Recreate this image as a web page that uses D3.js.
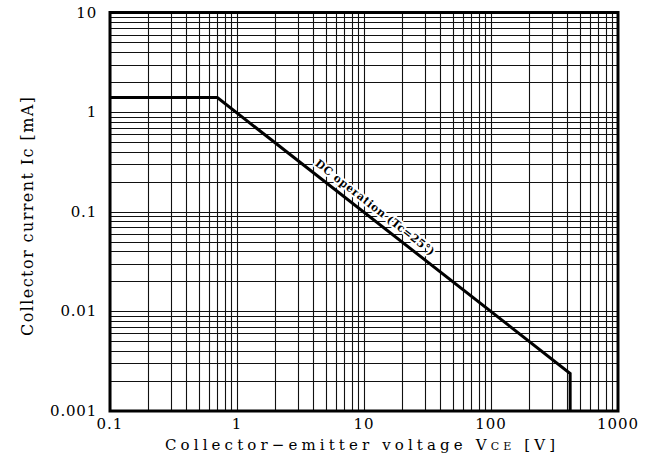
<!DOCTYPE html>
<html><head><meta charset="utf-8">
<script src="https://cdn.jsdelivr.net/npm/d3@7"></script>
<style>body{margin:0;background:#fff}svg{display:block}</style>
</head><body>
<svg id="c" width="657" height="464"></svg>
<script>
// ---- data ----
const xTicks = [0.1, 1, 10, 100, 1000];
const xTickLabels = ["0.1", "1", "10", "100", "1000"];
const yTicks = [0.001, 0.01, 0.1, 1, 10];
const yTickLabels = ["0.001", "0.01", "0.1", "1", "10"];
const gridMultiples = [1, 2, 3, 4, 5, 6, 7, 8, 9];
const soaVoltage = [0.1, 0.7, 420, 420];
const soaCurrent = [1.4, 1.4, 0.00238, 0.001];
const curveLabel = "DC operation (Tc=25°)";
const xTitle = "Collector−emitter voltage V";
const xTitleSub = "CE";
const xTitleEnd = " [V]";
const yTitle = "Collector current Ic [mA]";

// ---- layout ----
const L = 110, R = 618, T = 12.5, B = 411;
const svg = d3.select("#c");
const x = d3.scaleLog().domain([0.1, 1000]).range([L, R]);
const y = d3.scaleLog().domain([0.001, 10]).range([B, T]);
const font = "'DejaVu Serif', serif";

const xGrid = [], yGrid = [];
for (const d of xTicks.slice(0, -1)) for (const m of gridMultiples) xGrid.push(d * m);
for (const d of yTicks.slice(0, -1)) for (const m of gridMultiples) yGrid.push(d * m);

const g = svg.append("g");
g.selectAll("line.vx").data(xGrid).join("line")
  .attr("x1", d => Math.round(x(d)) + 0.5).attr("x2", d => Math.round(x(d)) + 0.5)
  .attr("y1", T).attr("y2", B).attr("stroke", "#111").attr("stroke-width", 1.1);
g.selectAll("line.hy").data(yGrid).join("line")
  .attr("y1", d => Math.round(y(d)) + 0.5).attr("y2", d => Math.round(y(d)) + 0.5)
  .attr("x1", L).attr("x2", R).attr("stroke", "#111").attr("stroke-width", 1.1);

// curve
const pts = soaVoltage.map((v, i) => [v, soaCurrent[i]]);
svg.append("path").datum(pts)
  .attr("d", d3.line().x(d => x(d[0])).y(d => y(d[1])))
  .attr("fill", "none").attr("stroke", "#000").attr("stroke-width", 3)
  .attr("stroke-linejoin", "miter");

// frame
svg.append("rect").attr("x", L).attr("y", T).attr("width", R - L).attr("height", B - T)
  .attr("fill", "none").attr("stroke", "#000").attr("stroke-width", 3);

// curve label
const p1 = [x(soaVoltage[1]), y(soaCurrent[1])], p2 = [x(soaVoltage[2]), y(soaCurrent[2])];
const ang = Math.atan2(p2[1] - p1[1], p2[0] - p1[0]) * 180 / Math.PI;
const lv = 3.6, li = soaCurrent[1] * soaVoltage[1] / lv;
svg.append("text")
  .attr("transform", `translate(${x(lv)},${y(li)}) rotate(${ang}) translate(3,-7)`)
  .attr("font-family", font).attr("font-size", 11).attr("font-weight", "bold")
  .attr("textLength", 148).attr("lengthAdjust", "spacing")
  .attr("stroke", "#fff").attr("stroke-width", 4).attr("paint-order", "stroke")
  .attr("stroke-linejoin", "round")
  .text(curveLabel);

// x tick labels
svg.selectAll("text.xt").data(xTicks).join("text")
  .attr("x", d => x(d)).attr("y", 429).attr("text-anchor", "middle")
  .attr("font-family", font).attr("font-size", 15).attr("letter-spacing", 1)
  .text((d, i) => xTickLabels[i]);
// y tick labels
svg.selectAll("text.yt").data(yTicks).join("text")
  .attr("x", 97).attr("y", d => y(d) + 5).attr("text-anchor", "end")
  .attr("font-family", font).attr("font-size", 15).attr("letter-spacing", 0.8)
  .text((d, i) => yTickLabels[i]);

// x title
const xt = svg.append("text").attr("x", 165).attr("y", 450)
  .attr("font-family", font).attr("font-size", 15)
  .attr("textLength", 390).attr("lengthAdjust", "spacing");
xt.append("tspan").text(xTitle);
xt.append("tspan").attr("font-size", 11).text(xTitleSub);
xt.append("tspan").text(xTitleEnd);

// y title
svg.append("text").attr("transform", "translate(33,336) rotate(-90)")
  .attr("font-family", font).attr("font-size", 16)
  .attr("textLength", 239).attr("lengthAdjust", "spacing")
  .text(yTitle);
</script>
</body></html>
